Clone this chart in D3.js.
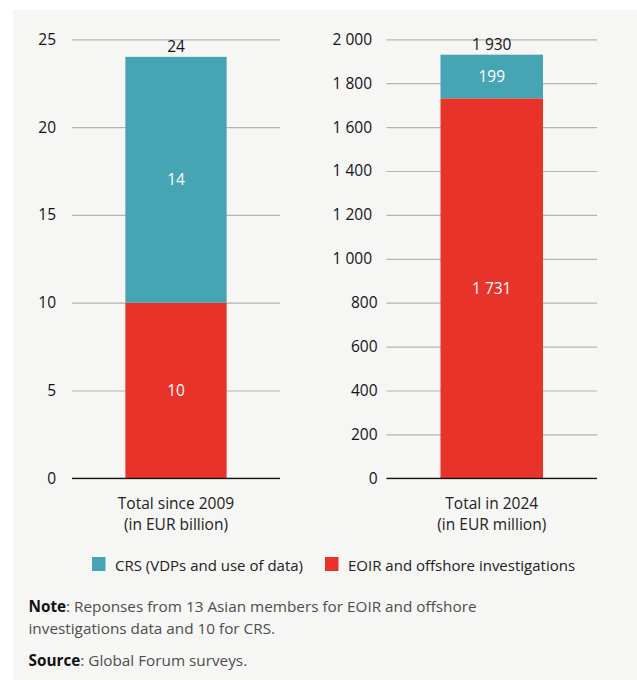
<!DOCTYPE html>
<html>
<head>
<meta charset="utf-8">
<script src="https://cdn.jsdelivr.net/npm/d3@7"></script>
<style>
  html, body { margin: 0; padding: 0; background: #ffffff; }
  svg { display: block; }
  text { font-family: "Open Sans", "Noto Sans", sans-serif; }
</style>
</head>
<body>
<div id="chart"></div>
<script>
// Recovered tax revenue reported by Asian members, shown as two stacked bars
const categories = ["Total since 2009", "Total in 2024"];
const unitLabels = ["(in EUR billion)", "(in EUR million)"];
const seriesNames = ["CRS (VDPs and use of data)", "EOIR and offshore investigations"];
const eoirValues = [10, 1731];   // EOIR and offshore investigations
const crsValues = [14, 199];     // CRS (VDPs and use of data)
const axisMax = [25, 2000];
const leftTicks = [0, 5, 10, 15, 20, 25];
const rightTicks = [0, 200, 400, 600, 800, 1000, 1200, 1400, 1600, 1800, 2000];
const noteText = ": Reponses from 13 Asian members for EOIR and offshore";
const noteText2 = "investigations data and 10 for CRS.";
const sourceText = ": Global Forum surveys.";

const W = 637, H = 680;
const colors = { crs: "#45a5b4", eoir: "#e8332b" };
const fmt = d3.formatLocale({ decimal: ".", thousands: " ", grouping: [3], currency: ["", ""] }).format(",.0f");

const svg = d3.select("#chart").append("svg")
  .attr("width", W).attr("height", H);

svg.append("rect").attr("width", W).attr("height", H).attr("fill", "#ffffff");
svg.append("rect").attr("x", 13).attr("y", 10).attr("width", W - 13).attr("height", H - 10)
  .attr("fill", "#f6f6f4");

const yTop = 39.3, yBottom = 478.3;

const panels = [
  { x0: 72, x1: 280, ticks: leftTicks, pad: 16, bigShift: 0 },
  { x0: 386.5, x1: 597, ticks: rightTicks, pad: 9, bigShift: -5.5 }
];

panels.forEach((p, i) => {
  const y = d3.scaleLinear().domain([0, axisMax[i]]).range([yBottom, yTop]);
  const x = d3.scaleBand().domain([categories[i]]).range([p.x0, p.x1]).padding(0.345);

  // gridlines and tick labels
  const axis = d3.axisLeft(y)
    .tickValues(p.ticks)
    .tickSize(-(p.x1 - p.x0))
    .tickPadding(p.pad)
    .tickFormat(fmt);

  const g = svg.append("g").attr("transform", `translate(${p.x0},0)`).call(axis);
  g.select(".domain").remove();
  g.selectAll(".tick line").attr("stroke", "#b3b3b3").attr("stroke-width", 1.2);
  g.selectAll(".tick text")
    .attr("fill", "#141414")
    .attr("font-size", 15.5)
    .attr("dx", d => d >= 1000 ? p.bigShift : 0);

  const cat = categories[i];
  const bx = x(cat), bw = x.bandwidth();
  const eoir = eoirValues[i], crs = crsValues[i], total = eoir + crs;

  // stacked segments
  svg.append("rect")
    .attr("x", bx).attr("width", bw)
    .attr("y", y(eoir)).attr("height", y(0) - y(eoir))
    .attr("fill", colors.eoir);
  svg.append("rect")
    .attr("x", bx).attr("width", bw)
    .attr("y", y(total)).attr("height", y(eoir) - y(total))
    .attr("fill", colors.crs);

  // baseline
  svg.append("line")
    .attr("x1", p.x0).attr("x2", p.x1)
    .attr("y1", y(0)).attr("y2", y(0))
    .attr("stroke", "#111").attr("stroke-width", 1.3);

  const cx = bx + bw / 2;
  // segment values
  svg.append("text")
    .attr("x", cx).attr("y", (y(0) + y(eoir)) / 2).attr("dy", "0.35em")
    .attr("text-anchor", "middle").attr("fill", "#ffffff").attr("font-size", 15.5)
    .text(fmt(eoir));
  svg.append("text")
    .attr("x", cx).attr("y", (y(eoir) + y(total)) / 2).attr("dy", "0.35em")
    .attr("text-anchor", "middle").attr("fill", "#ffffff").attr("font-size", 15.5)
    .text(fmt(crs));
  // total above bar
  svg.append("text")
    .attr("x", cx).attr("y", y(total) - 4.5)
    .attr("text-anchor", "middle").attr("fill", "#141414").attr("font-size", 15.5)
    .text(fmt(total));

  // category label
  const lbl = svg.append("text")
    .attr("text-anchor", "middle").attr("fill", "#222").attr("font-size", 15.5);
  lbl.append("tspan").attr("x", cx).attr("y", 508.5).text(cat);
  lbl.append("tspan").attr("x", cx).attr("y", 529.5).text(unitLabels[i]);
});

// legend
const legend = [
  { name: seriesNames[0], color: colors.crs, x: 92 },
  { name: seriesNames[1], color: colors.eoir, x: 325 }
];
legend.forEach(l => {
  svg.append("rect").attr("x", l.x).attr("y", 557).attr("width", 13.5).attr("height", 14)
    .attr("fill", l.color);
  svg.append("text").attr("x", l.x + 23).attr("y", 571).attr("fill", "#222")
    .attr("font-size", 15).text(l.name);
});

// notes
function noteLine(y, bold, rest) {
  const t = svg.append("text").attr("x", 28.5).attr("y", y).attr("font-size", 15.3);
  if (bold) t.append("tspan").attr("font-weight", 700).attr("fill", "#111").text(bold);
  t.append("tspan").attr("fill", "#4d4d4d").text(rest);
}
noteLine(612, "Note", noteText);
noteLine(634, null, noteText2);
noteLine(665.5, "Source", sourceText);
</script>
</body>
</html>
